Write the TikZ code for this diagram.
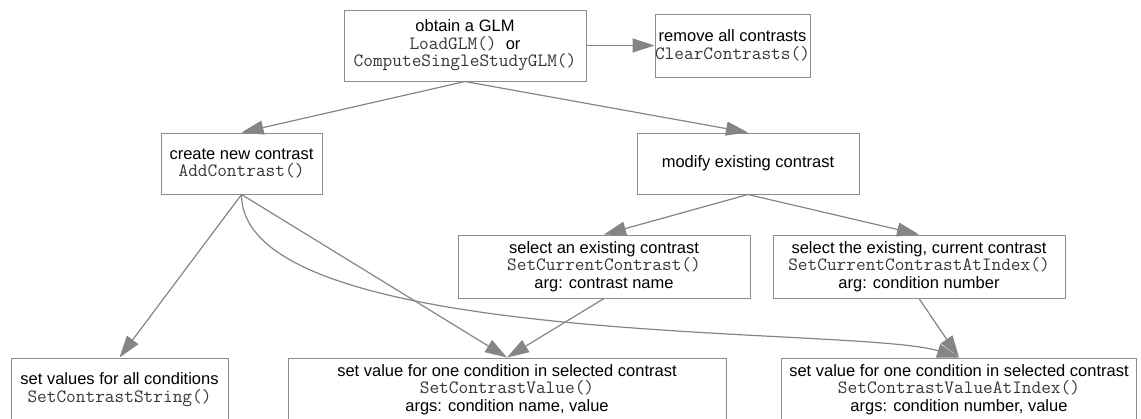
\documentclass[tikz,border=0pt]{standalone}
\usepackage{fontspec}
\setmainfont{Liberation Sans}
\usetikzlibrary{arrows.meta}
\definecolor{edgecol}{HTML}{858585}
\definecolor{boxcol}{HTML}{8C8C8C}
\definecolor{codecol}{HTML}{3A3438}
\newcommand\codetxt[1]{{\ttfamily\fontsize{18.8}{17.5}\selectfont\color{codecol}#1}}
\begin{document}
\begin{tikzpicture}[x=1pt,y=-1pt,
  box/.style={draw=boxcol,line width=1pt,inner sep=0pt,align=center,
    font=\fontsize{16.5}{17.5}\selectfont,text=black},
  conn/.style={draw=edgecol,line width=1.2pt,-{Triangle[length=22pt,width=14pt]}}
]
\useasboundingbox (0,0) rectangle (1141,418);
\clip (0,0) rectangle (1141,418);
% top row
\node[box,minimum width=242pt,minimum height=71pt] (glm) at (465,45.5)
  {obtain a GLM\\\codetxt{LoadGLM()}\ \ or\\\codetxt{ComputeSingleStudyGLM()}};
\node[box,minimum width=155pt,minimum height=63pt] (clr) at (732.5,45.5)
  {remove all contrasts\\\codetxt{ClearContrasts()}};
% second row
\node[box,minimum width=161pt,minimum height=61pt] (add) at (241.5,163.5)
  {create new contrast\\\codetxt{AddContrast()}};
\node[box,minimum width=222pt,minimum height=61pt] (mod) at (748,163.5)
  {modify existing contrast};
% third row
\node[box,minimum width=292pt,minimum height=63pt] (sel) at (604,266.5)
  {select an existing contrast\\\codetxt{SetCurrentContrast()}\\arg: contrast name};
\node[box,minimum width=292pt,minimum height=63pt] (seli) at (919,266.5)
  {select the existing, current contrast\\\codetxt{SetCurrentContrastAtIndex()}\\arg: condition number};
% bottom row
\node[box,minimum width=217pt,minimum height=63pt] (str) at (119.5,389.5)
  {set values for all conditions\\\codetxt{SetContrastString()}};
\node[box,minimum width=438pt,minimum height=63pt] (val) at (507,389.5)
  {set value for one condition in selected contrast\\\codetxt{SetContrastValue()}\\args: condition name, value};
\node[box,minimum width=355pt,minimum height=63pt] (vali) at (959,389.5)
  {set value for one condition in selected contrast\\\codetxt{SetContrastValueAtIndex()}\\args: condition number, value};
% connectors
\draw[conn] (glm.east) -- (clr.west);
\draw[conn] (glm.south) -- (add.north);
\draw[conn] (glm.south) -- (mod.north);
\draw[conn] (mod.south) -- (sel.north);
\draw[conn] (mod.south) -- (seli.north);
\draw[conn] (add.south) -- (str.north);
\draw[conn] (add.south) -- (val.north);
\draw[conn] (add.south) .. controls +(0,156) and +(-100,-32) .. (vali.north);
\draw[conn] (sel.south) -- (val.north);
\draw[conn] (seli.south) -- (vali.north);
\end{tikzpicture}
\end{document}
